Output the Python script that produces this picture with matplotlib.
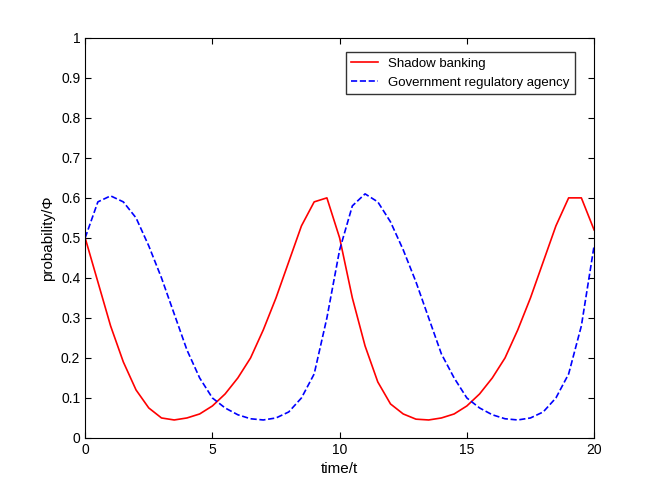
import matplotlib
matplotlib.use("Agg")
import matplotlib.pyplot as plt

t = [i * 0.5 for i in range(41)]
shadow = [0.50, 0.39, 0.28, 0.19, 0.12, 0.075, 0.05, 0.045, 0.05, 0.06, 0.08,
          0.11, 0.15, 0.20, 0.27, 0.35, 0.44, 0.53, 0.59, 0.60, 0.50,
          0.35, 0.23, 0.14, 0.085, 0.06, 0.047, 0.045, 0.05, 0.06, 0.08,
          0.11, 0.15, 0.20, 0.27, 0.35, 0.44, 0.53, 0.60, 0.60, 0.52]
gov = [0.50, 0.59, 0.605, 0.59, 0.55, 0.48, 0.40, 0.31, 0.22, 0.15, 0.10,
       0.075, 0.058, 0.048, 0.045, 0.05, 0.065, 0.10, 0.16, 0.30, 0.47,
       0.58, 0.61, 0.59, 0.54, 0.47, 0.39, 0.30, 0.21, 0.15, 0.10,
       0.075, 0.058, 0.048, 0.045, 0.05, 0.065, 0.10, 0.16, 0.28, 0.48]

plt.rcParams["font.family"] = "Liberation Sans"
fig = plt.figure(figsize=(6.55, 4.91), dpi=100)
ax = fig.add_axes([0.130, 0.108, 0.777, 0.815])
ax.plot(t, shadow, color="#ff0000", lw=1.2, label="Shadow banking")
ax.plot(t, gov, color="#0000ff", lw=1.2, ls="--", label="Government regulatory agency")
ax.set_xlim(0, 20)
ax.set_ylim(0, 1)
ax.set_xticks([0, 5, 10, 15, 20])
ax.set_yticks([i / 10 for i in range(11)])
ax.set_yticklabels(["0"] + [f"{i/10:.1f}" for i in range(1, 10)] + ["1"])
ax.tick_params(direction="in", labelsize=10, top=True, right=True, length=4)
ax.set_xlabel("time/t", fontsize=11)
ax.set_ylabel("probability/Φ", fontsize=11)
ax.legend(loc="upper right", fontsize=9.5, frameon=True, fancybox=False,
          edgecolor="black", bbox_to_anchor=(0.975, 0.98))
fig.savefig("out.png", dpi=100)
